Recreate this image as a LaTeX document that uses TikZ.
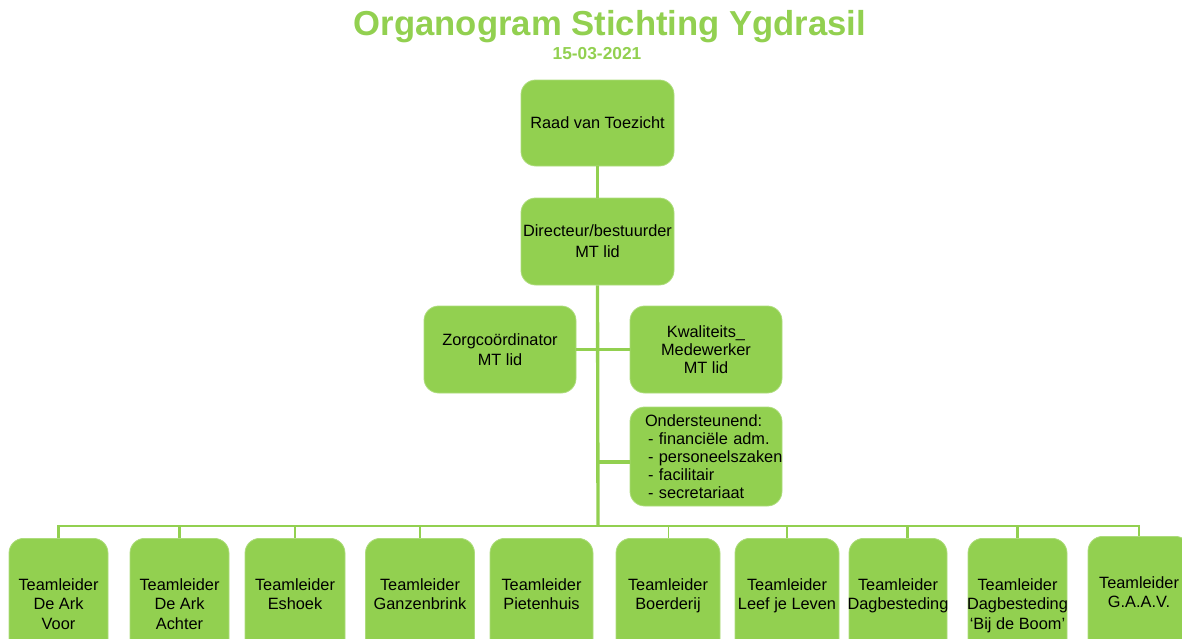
\documentclass[tikz,border=0pt]{standalone}
\usepackage{fontspec}
\setmainfont{Liberation Sans}
\definecolor{ygreen}{HTML}{92D050}
\tikzset{
  box/.style={fill=ygreen, draw=ygreen!75!white, line width=0.6pt, rounded corners=11pt,
    inner sep=0pt, align=center, font=\fontsize{12.25}{14.5}\selectfont},
  tlbox/.style={box, anchor=north, minimum height=106.5pt},
  tltext/.style={anchor=north, inner sep=0pt, align=center, font=\fontsize{12.25}{14.6}\selectfont},
  link/.style={draw=ygreen, line width=2.5pt},
  buslink/.style={link, line width=2.2pt},
}
\newcommand{\listline}[1]{\mbox{\hspace*{2.25pt}- #1}}

\begin{document}
\begin{tikzpicture}[x=0.75pt, y=-0.75pt]
\clip (0,0) rectangle (1182,639);

% title
\node[font=\fontsize{26}{30}\selectfont\bfseries, text=ygreen] (title) at (610,27) {Organogram Stichting Ygdrasil};
\node[font=\fontsize{13}{15}\selectfont\bfseries, text=ygreen] (date) at (597,54) {15-03-2021};

% top of the tree
\node[box, minimum width=114.75pt, minimum height=64.5pt] (raad) at (597.5,123) {Raad van Toezicht};
\node[box, minimum width=114.75pt, minimum height=65.25pt, font=\fontsize{12.25}{15.75}\selectfont] (dir) at (597.5,241.5) {Directeur/bestuurder\\MT lid};
\node[box, minimum width=114pt, minimum height=65.25pt, font=\fontsize{12.25}{15}\selectfont] (zorg) at (500,349.5) {Zorgcoördinator\\MT lid};
\node[box, minimum width=114pt, minimum height=65.25pt, font=\fontsize{12.25}{13.5}\selectfont] (kwal) at (706,349.5) {Kwaliteits\_\\Medewerker\\MT lid};
\node[box, minimum width=114pt, minimum height=74.25pt, align=left, text width=91.5pt, font=\fontsize{12.25}{13.5}\selectfont] (onder) at (706,456.5)
  {\mbox{Ondersteunend:}\\\listline{financiële adm.}\\\listline{personeelszaken}\\\listline{facilitair}\\\listline{secretariaat}};

% teamleiders
\foreach \n/\x/\y/\w/\t in {
    1/58.5/538/74.25/{Teamleider\\De Ark\\Voor},
    2/179.5/538/74.25/{Teamleider\\De Ark\\Achter},
    3/295/538/75/{Teamleider\\Eshoek},
    4/420/538/81.75/{Teamleider\\Ganzenbrink},
    5/541.5/538/77.25/{Teamleider\\Pietenhuis},
    6/668/538/78/{Teamleider\\Boerderij},
    7/787/538/78/{Teamleider\\Leef je Leven},
    8/898/538/73.5/{Teamleider\\Dagbesteding},
    9/1017.5/538/74.25/{Teamleider\\Dagbesteding\\`Bij de Boom'},
    10/1139/536/76.5/{Teamleider\\G.A.A.V.}}{
  \node[tlbox, minimum width=\w pt] (tl\n) at (\x,\y) {};
  \node[tltext] (tt\n) at (\x,\y+40) {\t};
}

% lines
\coordinate (bus) at (598,526);
\coordinate (ondin) at ([yshift=-4pt]onder.west);
\coordinate (d8) at ([xshift=7pt]tl8.north);
\draw[link] (raad.south) -- (dir.north);
\draw[link] (dir.south) -- (bus);
\draw[link] (zorg.east) -- (kwal.west);
\draw[link] (ondin) -- (dir.south |- ondin);
\draw[buslink] (tl1.north) |- (bus) -| (tl10.north);
\foreach \n in {2,3,4,7,9}
  \draw[buslink] (tl\n.north) -- (tl\n.north |- bus);
\draw[buslink] (d8) -- (d8 |- bus);
\draw[link, line width=0.75pt] (tl6.north) -- (tl6.north |- bus);
\end{tikzpicture}
\end{document}
